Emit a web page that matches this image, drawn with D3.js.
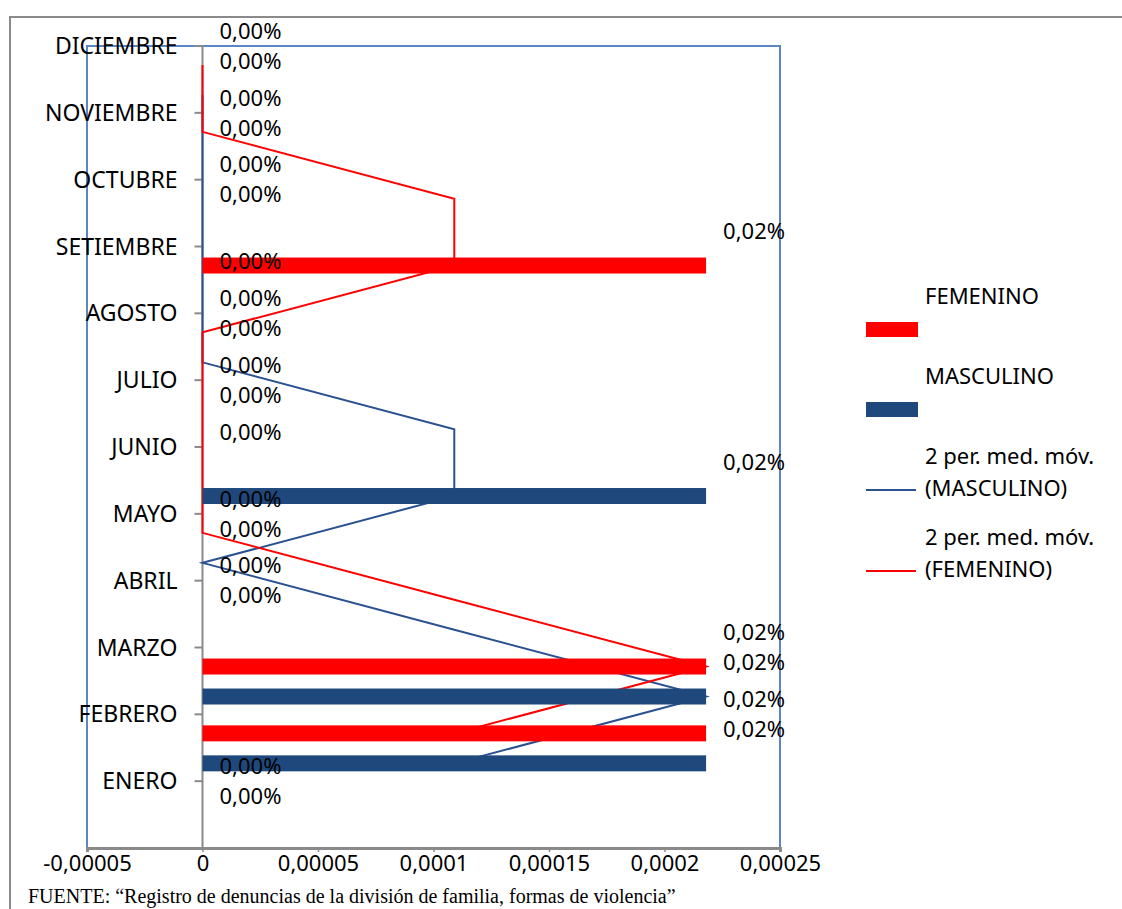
<!DOCTYPE html>
<html>
<head>
<meta charset="utf-8">
<script src="https://cdn.jsdelivr.net/npm/d3@7"></script>
<style>
  body { margin: 0; background: #fff; }
  svg text { font-family: "Noto Sans", sans-serif; fill: #000; }
  svg text.footer { font-family: "Liberation Serif", "Times New Roman", serif; }
</style>
</head>
<body>
<div id="chart"></div>
<script>
// months, bottom (ENERO) to top (DICIEMBRE)
const months = ["ENERO", "FEBRERO", "MARZO", "ABRIL", "MAYO", "JUNIO", "JULIO",
  "AGOSTO", "SETIEMBRE", "OCTUBRE", "NOVIEMBRE", "DICIEMBRE"];
const series = ["FEMENINO", "MASCULINO"];
const femenino = [0, 0.000218, 0.000218, 0, 0, 0, 0, 0, 0.000218, 0, 0, 0];
const masculino = [0, 0.000218, 0.000218, 0, 0, 0.000218, 0, 0, 0, 0, 0, 0];
const xTicks = [-0.00005, 0, 0.00005, 0.0001, 0.00015, 0.0002, 0.00025];
const legendItems = [
  { lines: ["FEMENINO"], type: "rect", color: "#ff0000" },
  { lines: ["MASCULINO"], type: "rect", color: "#1f497d" },
  { lines: ["2 per. med. móv.", "(MASCULINO)"], type: "line", color: "#2a5190" },
  { lines: ["2 per. med. móv.", "(FEMENINO)"], type: "line", color: "#ff0000" }
];
const footer = "FUENTE: “Registro de denuncias de la división de familia, formas de violencia”";

const width = 1122, height = 909;
const plot = { left: 87, right: 780, top: 46, bottom: 848 };

const es = d3.formatLocale({ decimal: ",", thousands: ".", grouping: [3], currency: ["", "€"], minus: "-" });
const pct = es.format(".2%");
const num = es.format("~g");

const svg = d3.select("#chart").append("svg")
  .attr("width", width)
  .attr("height", height);

// outer frame (cut by page edges)
svg.append("path")
  .attr("d", `M10,${height + 2} L10,17 L${width + 2},17`)
  .attr("fill", "none")
  .attr("stroke", "#8a8a8a")
  .attr("stroke-width", 2);

const x = d3.scaleLinear()
  .domain([-0.00005, 0.00025])
  .range([plot.left, plot.right]);

// categories top to bottom, label sits at the band start
const y = d3.scaleBand()
  .domain(months.slice().reverse())
  .range([plot.top, plot.bottom]);
const bw = y.bandwidth();

const sub = d3.scaleBand()
  .domain(series)
  .range([bw * 0.165, bw * 0.853])
  .paddingInner(0.467);

const values = { FEMENINO: femenino, MASCULINO: masculino };
const colors = { FEMENINO: "#ff0000", MASCULINO: "#1f497d" };
const lineColors = { FEMENINO: "#ff0000", MASCULINO: "#2a5190" };

// plot area border
svg.append("rect")
  .attr("x", plot.left)
  .attr("y", plot.top)
  .attr("width", plot.right - plot.left)
  .attr("height", plot.bottom - plot.top)
  .attr("fill", "none")
  .attr("stroke", "#5b86c3")
  .attr("stroke-width", 2);

// vertical category axis at x = 0
const yAxis = svg.append("g").attr("transform", `translate(${x(0)},0)`);
yAxis.append("line")
  .attr("y1", plot.top).attr("y2", plot.bottom)
  .attr("stroke", "#8a8a8a").attr("stroke-width", 2);
yAxis.selectAll("line.tick")
  .data(months)
  .enter().append("line")
  .attr("class", "tick")
  .attr("x1", -8).attr("x2", 0)
  .attr("y1", d => y(d)).attr("y2", d => y(d))
  .attr("stroke", "#8a8a8a").attr("stroke-width", 2);

// value axis
const xAxis = svg.append("g")
  .attr("transform", `translate(0,${plot.bottom})`)
  .call(d3.axisBottom(x).tickValues(xTicks).tickFormat(num).tickSize(4).tickPadding(3));
xAxis.select(".domain").attr("stroke", "#8a8a8a").attr("stroke-width", 3);
xAxis.selectAll(".tick line").attr("stroke", "#8a8a8a").attr("stroke-width", 1.5);
xAxis.selectAll(".tick text")
  .attr("font-size", 22)
  .attr("fill", "#000");

// 2-period moving averages (drawn behind the bars)
const mid = s => d => y(d.month) + sub(s) + sub.bandwidth() / 2;
["MASCULINO", "FEMENINO"].forEach(s => {
  const v = values[s];
  const ma = months.slice(1).map((m, i) => ({ month: m, value: (v[i] + v[i + 1]) / 2 }));
  svg.append("path")
    .datum(ma)
    .attr("fill", "none")
    .attr("stroke", lineColors[s])
    .attr("stroke-width", 2)
    .attr("d", d3.line().x(d => x(d.value)).y(mid(s)));
});

// bars
series.forEach(s => {
  svg.append("g")
    .selectAll("rect")
    .data(months.map((m, i) => ({ month: m, value: values[s][i] })))
    .enter().append("rect")
    .attr("x", x(0))
    .attr("y", d => y(d.month) + sub(s))
    .attr("width", d => x(d.value) - x(0))
    .attr("height", sub.bandwidth())
    .attr("fill", colors[s]);
});

// data labels, one slot above their bar
series.forEach(s => {
  svg.append("g")
    .selectAll("text")
    .data(months.map((m, i) => ({ month: m, value: values[s][i] })))
    .enter().append("text")
    .attr("x", d => x(d.value) + 17)
    .attr("y", d => mid(s)(d) - 34)
    .attr("dy", "0.35em")
    .attr("font-size", 22)
    .text(d => pct(d.value));
});

// month labels
svg.append("g")
  .selectAll("text")
  .data(months)
  .enter().append("text")
  .attr("x", x(0) - 25)
  .attr("y", d => y(d))
  .attr("dy", "0.35em")
  .attr("text-anchor", "end")
  .attr("font-size", 23)
  .text(d => d);

// legend
const legendY = [296, 376, 456, 537];
legendItems.forEach((item, i) => {
  const g = svg.append("g").attr("transform", `translate(866,${legendY[i]})`);
  item.lines.forEach((t, j) => {
    g.append("text")
      .attr("x", 59)
      .attr("y", j * 32)
      .attr("dy", "0.35em")
      .attr("font-size", 22)
      .text(t);
  });
  if (item.type === "rect") {
    g.append("rect")
      .attr("x", 0).attr("y", 26)
      .attr("width", 52).attr("height", 15)
      .attr("fill", item.color);
  } else {
    g.append("line")
      .attr("x1", 0).attr("x2", 50)
      .attr("y1", 34).attr("y2", 34)
      .attr("stroke", item.color)
      .attr("stroke-width", 2);
  }
});

// source note at the bottom edge
svg.append("text")
  .attr("class", "footer")
  .attr("x", 28)
  .attr("y", 903)
  .attr("font-size", 20)
  .text(footer);
</script>
</body>
</html>
